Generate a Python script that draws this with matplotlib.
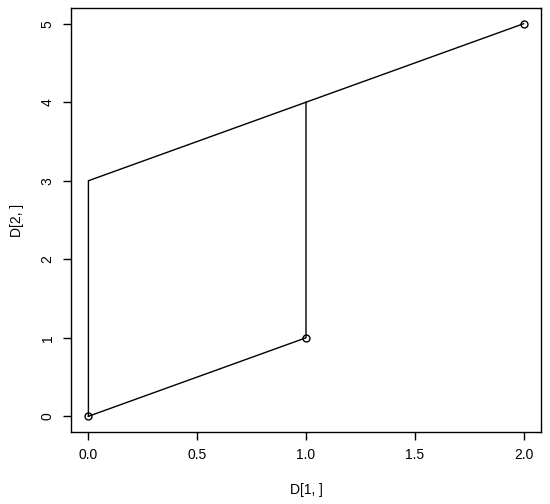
import matplotlib
matplotlib.use("Agg")
import matplotlib.pyplot as plt

plt.rcParams['font.family'] = ['Liberation Sans', 'DejaVu Sans']

# point matrix columns (D[1, ], D[2, ])
px = [0, 1, 2]
py = [0, 1, 5]
# line paths
path1_x = [0, 1, 1, 2]
path1_y = [0, 1, 4, 5]
path2_x = [0, 0, 1]
path2_y = [0, 3, 4]

fig = plt.figure(figsize=(5.5, 5.04), dpi=100)
ax = fig.add_axes([71/550, 1-432/504, 470/550, 424/504])

ax.plot(path1_x, path1_y, color='black', lw=1)
ax.plot(path2_x, path2_y, color='black', lw=1)
ax.plot(px, py, 'o', mfc='none', mec='black', ms=5, mew=1)

ax.set_xlim(-0.08, 2.08)
ax.set_ylim(-0.2, 5.2)
ax.set_xticks([0.0, 0.5, 1.0, 1.5, 2.0])
ax.set_xticklabels(['0.0', '0.5', '1.0', '1.5', '2.0'])
ax.set_yticks([0, 1, 2, 3, 4, 5])
ax.tick_params(direction='out', length=5.8, width=1, labelsize=10, pad=6)
plt.setp(ax.get_yticklabels(), rotation=90, va='center')
for s in ax.spines.values():
    s.set_linewidth(1)

ax.set_xlabel('D[1, ]', fontsize=10, labelpad=15)
ax.set_ylabel('D[2, ]', fontsize=10, labelpad=12)

fig.savefig('out.png', dpi=100)
